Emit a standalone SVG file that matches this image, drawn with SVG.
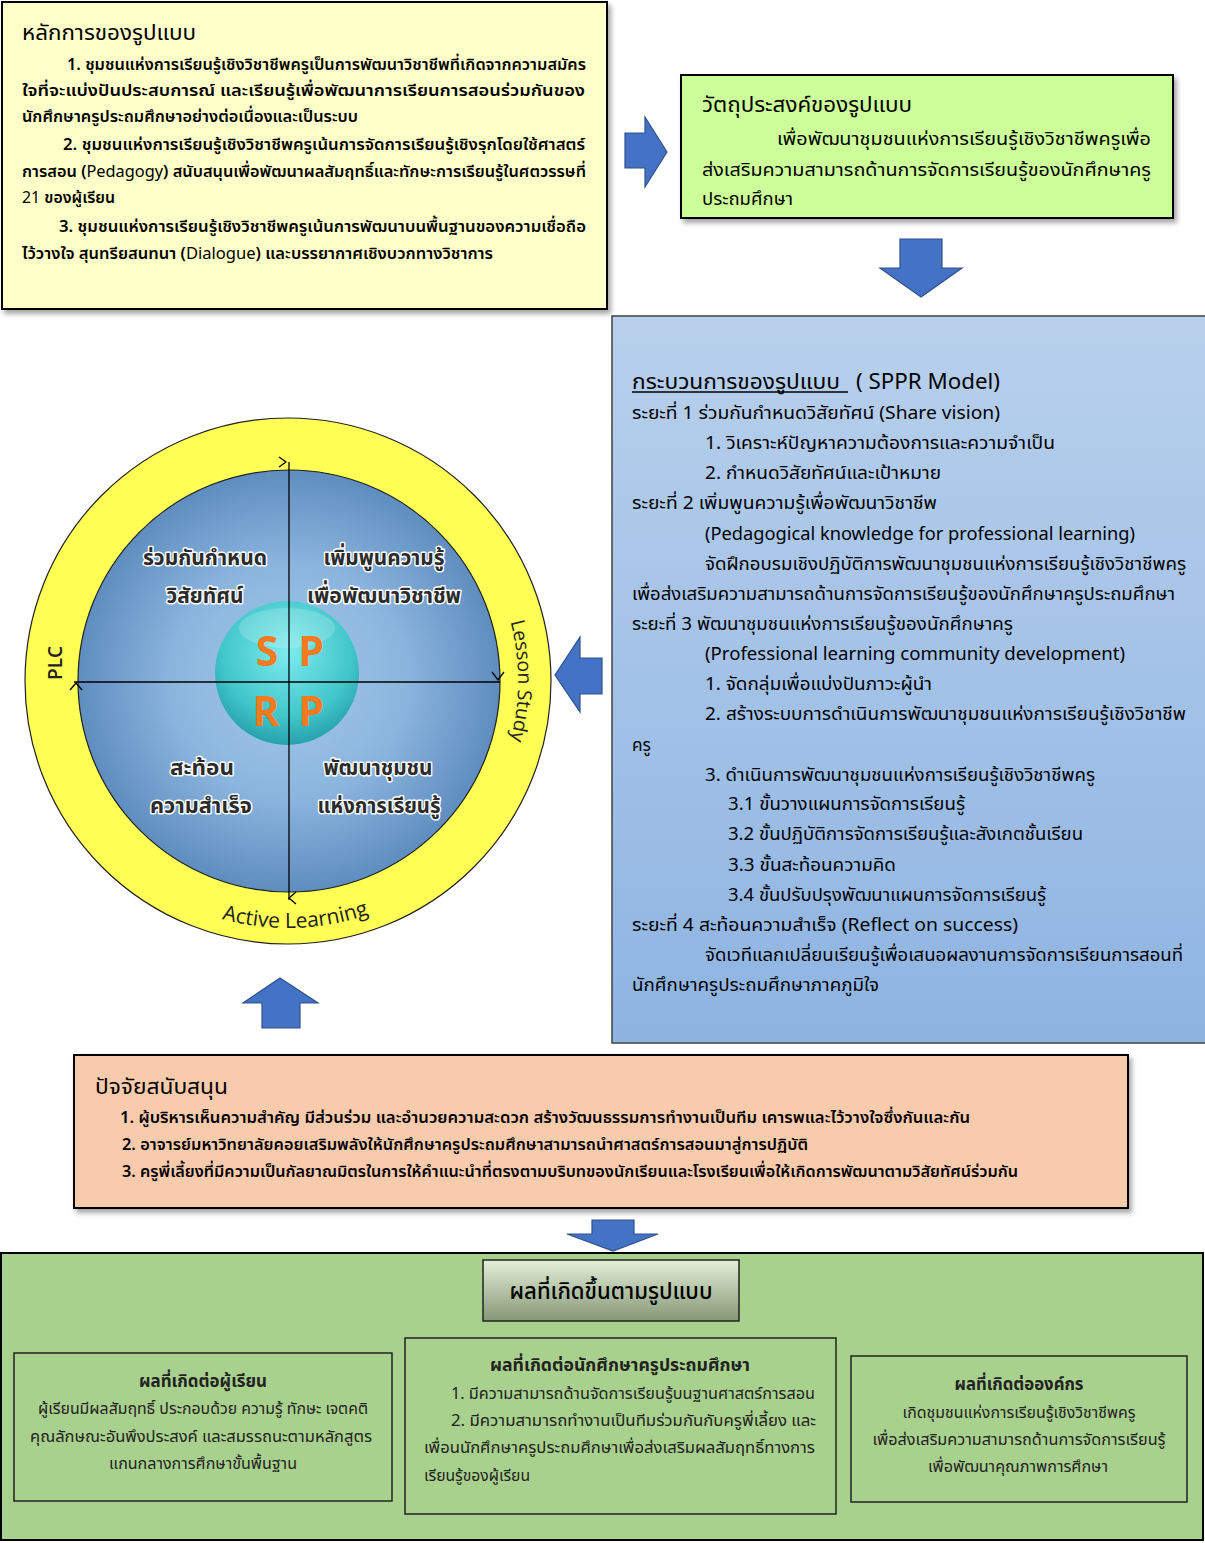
<svg xmlns="http://www.w3.org/2000/svg" width="1205" height="1543" viewBox="0 0 1205 1543">
<style>
text{font-family:"Noto Sans Thai","Noto Sans Thai UI","Noto Sans","DejaVu Sans",sans-serif;fill:#000}
.h{font-size:21.5px}
.b{font-size:16px;font-weight:600}
.p{font-size:17.5px}
.q{font-size:15.5px;fill:#222}
.qt{font-size:17px;font-weight:bold;fill:#222}
.ql{font-size:22px;font-weight:bold;fill:#2b2b2b;stroke:#fff;stroke-width:3px;paint-order:stroke;stroke-linejoin:round}
.ring{font-family:"Open Sans","Noto Sans",sans-serif;fill:#222}
.spp{font-family:"Open Sans","Noto Sans",sans-serif;font-size:41px;font-weight:bold;fill:#F47A20}
.arr{fill:#4472C4;stroke:#2F528F;stroke-width:1.2}
.box{stroke:#000;stroke-width:2}
.chev{fill:none;stroke:#000;stroke-width:1.3}
</style>
<defs>
<filter id="sh" x="-5%" y="-5%" width="110%" height="115%"><feDropShadow dx="3" dy="4" stdDeviation="2.5" flood-color="#000" flood-opacity="0.35"/></filter>
<linearGradient id="blueBox" x1="0" y1="0" x2="0" y2="1"><stop offset="0" stop-color="#B8D0EC"/><stop offset="1" stop-color="#8EB4E2"/></linearGradient>
<radialGradient id="inner" cx="0.5" cy="0.5" r="0.5"><stop offset="0" stop-color="#A4CAEC"/><stop offset="0.55" stop-color="#8CB5DE"/><stop offset="1" stop-color="#5E8DBF"/></radialGradient>
<radialGradient id="teal" cx="0.5" cy="0.35" r="0.65"><stop offset="0" stop-color="#7BEDEE"/><stop offset="0.7" stop-color="#3CC6C8"/><stop offset="1" stop-color="#229FA6"/></radialGradient>
<linearGradient id="tbox" x1="0" y1="0" x2="0" y2="1"><stop offset="0" stop-color="#E4EFD8"/><stop offset="1" stop-color="#859775"/></linearGradient>
<path id="lsArc" d="M496.5,583.8 A229,229 0 0 1 496.5,778.2" fill="none"/>
<path id="alArc" d="M74.1,804.5 A247,247 0 0 0 501.9,804.5" fill="none"/>
</defs>
<rect width="1205" height="1543" fill="#fff"/>

<g id="principles">
<rect class="box" x="2" y="2" width="605" height="307" fill="#FFFFC9" filter="url(#sh)"/>
<text class="h" x="22" y="40" textLength="174" lengthAdjust="spacingAndGlyphs">หลักการของรูปแบบ</text>
<text class="b" x="67" y="70" textLength="519" lengthAdjust="spacingAndGlyphs">1. ชุมชนแห่งการเรียนรู้เชิงวิชาชีพครูเป็นการพัฒนาวิชาชีพที่เกิดจากความสมัคร</text>
<text class="b" x="22" y="96" textLength="563" lengthAdjust="spacingAndGlyphs">ใจที่จะแบ่งปันประสบการณ์ และเรียนรู้เพื่อพัฒนาการเรียนการสอนร่วมกันของ</text>
<text class="b" x="22" y="122" textLength="336" lengthAdjust="spacingAndGlyphs">นักศึกษาครูประถมศึกษาอย่างต่อเนื่องและเป็นระบบ</text>
<text class="b" x="63" y="150" textLength="522" lengthAdjust="spacingAndGlyphs">2. ชุมชนแห่งการเรียนรู้เชิงวิชาชีพครูเน้นการจัดการเรียนรู้เชิงรุกโดยใช้ศาสตร์</text>
<text class="b" x="22" y="177" textLength="564" lengthAdjust="spacingAndGlyphs">การสอน (<tspan font-weight="normal">Pedagogy</tspan>) สนับสนุนเพื่อพัฒนาผลสัมฤทธิ์และทักษะการเรียนรู้ในศตวรรษที่</text>
<text class="b" x="22" y="203" textLength="93" lengthAdjust="spacingAndGlyphs"><tspan font-weight="normal">21</tspan> ของผู้เรียน</text>
<text class="b" x="59" y="232" textLength="527" lengthAdjust="spacingAndGlyphs">3. ชุมชนแห่งการเรียนรู้เชิงวิชาชีพครูเน้นการพัฒนาบนพื้นฐานของความเชื่อถือ</text>
<text class="b" x="22" y="259" textLength="471" lengthAdjust="spacingAndGlyphs">ไว้วางใจ สุนทรียสนทนา (<tspan font-weight="normal">Dialogue</tspan>) และบรรยากาศเชิงบวกทางวิชาการ</text>
</g>

<g id="objective">
<rect class="box" x="681" y="75" width="492" height="143" fill="#CCFF99" filter="url(#sh)"/>
<text class="h" x="702" y="112" textLength="210" lengthAdjust="spacingAndGlyphs">วัตถุประสงค์ของรูปแบบ</text>
<text class="p" x="777" y="145" textLength="374" lengthAdjust="spacingAndGlyphs">เพื่อพัฒนาชุมชนแห่งการเรียนรู้เชิงวิชาชีพครูเพื่อ</text>
<text class="p" x="702" y="176" textLength="449" lengthAdjust="spacingAndGlyphs">ส่งเสริมความสามารถด้านการจัดการเรียนรู้ของนักศึกษาครู</text>
<text class="p" x="702" y="205" textLength="91" lengthAdjust="spacingAndGlyphs">ประถมศึกษา</text>
</g>

<g id="process">
<rect x="612" y="316" width="595" height="727" fill="url(#blueBox)" stroke="#404040" stroke-width="1.5"/>
<text class="h" x="632" y="389" textLength="208" lengthAdjust="spacingAndGlyphs">กระบวนการของรูปแบบ</text>
<line x1="632" y1="392" x2="848" y2="392" stroke="#000" stroke-width="1.3"/>
<text class="h" x="856" y="389" textLength="144" lengthAdjust="spacingAndGlyphs">( SPPR Model)</text>
<text class="p" x="632" y="419" textLength="368" lengthAdjust="spacingAndGlyphs">ระยะที่ 1 ร่วมกันกำหนดวิสัยทัศน์  (Share vision)</text>
<text class="p" x="705" y="449" textLength="350" lengthAdjust="spacingAndGlyphs">1. วิเคราะห์ปัญหาความต้องการและความจำเป็น</text>
<text class="p" x="705" y="479" textLength="236" lengthAdjust="spacingAndGlyphs">2. กำหนดวิสัยทัศน์และเป้าหมาย</text>
<text class="p" x="632" y="509" textLength="305" lengthAdjust="spacingAndGlyphs">ระยะที่ 2 เพิ่มพูนความรู้เพื่อพัฒนาวิชาชีพ</text>
<text class="p" x="705" y="540" textLength="430" lengthAdjust="spacingAndGlyphs">(Pedagogical knowledge for professional  learning)</text>
<text class="p" x="705" y="570" textLength="481" lengthAdjust="spacingAndGlyphs">จัดฝึกอบรมเชิงปฏิบัติการพัฒนาชุมชนแห่งการเรียนรู้เชิงวิชาชีพครู</text>
<text class="p" x="632" y="600" textLength="543" lengthAdjust="spacingAndGlyphs">เพื่อส่งเสริมความสามารถด้านการจัดการเรียนรู้ของนักศึกษาครูประถมศึกษา</text>
<text class="p" x="632" y="630" textLength="381" lengthAdjust="spacingAndGlyphs">ระยะที่ 3 พัฒนาชุมชนแห่งการเรียนรู้ของนักศึกษาครู</text>
<text class="p" x="705" y="660" textLength="420" lengthAdjust="spacingAndGlyphs">(Professional  learning community development)</text>
<text class="p" x="705" y="690" textLength="227" lengthAdjust="spacingAndGlyphs">1. จัดกลุ่มเพื่อแบ่งปันภาวะผู้นำ</text>
<text class="p" x="705" y="720" textLength="481" lengthAdjust="spacingAndGlyphs">2. สร้างระบบการดำเนินการพัฒนาชุมชนแห่งการเรียนรู้เชิงวิชาชีพ</text>
<text class="p" x="632" y="751" textLength="19" lengthAdjust="spacingAndGlyphs">ครู</text>
<text class="p" x="705" y="781" textLength="390" lengthAdjust="spacingAndGlyphs">3. ดำเนินการพัฒนาชุมชนแห่งการเรียนรู้เชิงวิชาชีพครู</text>
<text class="p" x="728" y="810" textLength="237" lengthAdjust="spacingAndGlyphs">3.1 ขั้นวางแผนการจัดการเรียนรู้</text>
<text class="p" x="728" y="840" textLength="355" lengthAdjust="spacingAndGlyphs">3.2 ขั้นปฏิบัติการจัดการเรียนรู้และสังเกตชั้นเรียน</text>
<text class="p" x="728" y="871" textLength="168" lengthAdjust="spacingAndGlyphs">3.3 ขั้นสะท้อนความคิด</text>
<text class="p" x="728" y="901" textLength="318" lengthAdjust="spacingAndGlyphs">3.4 ขั้นปรับปรุงพัฒนาแผนการจัดการเรียนรู้</text>
<text class="p" x="632" y="931" textLength="386" lengthAdjust="spacingAndGlyphs">ระยะที่ 4 สะท้อนความสำเร็จ (Reflect on success)</text>
<text class="p" x="705" y="961" textLength="478" lengthAdjust="spacingAndGlyphs">จัดเวทีแลกเปลี่ยนเรียนรู้เพื่อเสนอผลงานการจัดการเรียนการสอนที่</text>
<text class="p" x="632" y="991" textLength="247" lengthAdjust="spacingAndGlyphs">นักศึกษาครูประถมศึกษาภาคภูมิใจ</text>
</g>

<g id="sppr-cycle">
<circle cx="288" cy="681" r="263" fill="#FFFF55" stroke="#222" stroke-width="1.2"/>
<circle cx="289" cy="681" r="211" fill="url(#inner)" stroke="#222" stroke-width="1.2"/>
<circle cx="287" cy="673" r="72" fill="url(#teal)" opacity="0.95"/>
<ellipse cx="287" cy="628" rx="48" ry="20" fill="#fff" opacity="0.18"/>
<line x1="289" y1="462" x2="289" y2="900" stroke="#000" stroke-width="1.3"/>
<line x1="74" y1="682" x2="500" y2="682" stroke="#000" stroke-width="1.3"/>
<polyline class="chev" points="279,457 286,462 279,467"/>
<polyline class="chev" points="492,672 498,680 504,672"/>
<polyline class="chev" points="296,892 289,898 296,904"/>
<polyline class="chev" points="70,690 76,683 82,690"/>
<text class="spp" x="267" y="666" text-anchor="middle">S</text>
<text class="spp" x="311" y="666" text-anchor="middle">P</text>
<text class="spp" x="266" y="726" text-anchor="middle">R</text>
<text class="spp" x="311" y="726" text-anchor="middle">P</text>
<text class="ql" x="205" y="565" text-anchor="middle" textLength="124" lengthAdjust="spacingAndGlyphs">ร่วมกันกำหนด</text>
<text class="ql" x="205" y="603" text-anchor="middle" textLength="77" lengthAdjust="spacingAndGlyphs">วิสัยทัศน์</text>
<text class="ql" x="384" y="565" text-anchor="middle" textLength="121" lengthAdjust="spacingAndGlyphs">เพิ่มพูนความรู้</text>
<text class="ql" x="384" y="603" text-anchor="middle" textLength="154" lengthAdjust="spacingAndGlyphs">เพื่อพัฒนาวิชาชีพ</text>
<text class="ql" x="202" y="775" text-anchor="middle" textLength="64" lengthAdjust="spacingAndGlyphs">สะท้อน</text>
<text class="ql" x="201" y="813" text-anchor="middle" textLength="102" lengthAdjust="spacingAndGlyphs">ความสำเร็จ</text>
<text class="ql" x="378" y="775" text-anchor="middle" textLength="109" lengthAdjust="spacingAndGlyphs">พัฒนาชุมชน</text>
<text class="ql" x="379" y="813" text-anchor="middle" textLength="123" lengthAdjust="spacingAndGlyphs">แห่งการเรียนรู้</text>
<text class="ring" transform="translate(62,663) rotate(-90)" text-anchor="middle" style="font-size:19px;font-weight:600">PLC</text>
<text class="ring" style="font-size:19.5px"><textPath href="#lsArc" startOffset="50%" text-anchor="middle">Lesson Study</textPath></text>
<text class="ring" style="font-size:21px"><textPath href="#alArc" startOffset="51.5%" text-anchor="middle">Active Learning</textPath></text>
</g>

<g id="support">
<rect class="box" x="74" y="1055" width="1054" height="153" fill="#F8CBAD" filter="url(#sh)"/>
<text class="h" x="95" y="1094" textLength="133" lengthAdjust="spacingAndGlyphs">ปัจจัยสนับสนุน</text>
<text class="b" x="120" y="1123" textLength="850" lengthAdjust="spacingAndGlyphs">1. ผู้บริหารเห็นความสำคัญ  มีส่วนร่วม และอำนวยความสะดวก สร้างวัฒนธรรมการทำงานเป็นทีม เคารพและไว้วางใจซึ่งกันและกัน</text>
<text class="b" x="122" y="1150" textLength="686" lengthAdjust="spacingAndGlyphs">2. อาจารย์มหาวิทยาลัยคอยเสริมพลังให้นักศึกษาครูประถมศึกษาสามารถนำศาสตร์การสอนมาสู่การปฏิบัติ</text>
<text class="b" x="122" y="1177" textLength="896" lengthAdjust="spacingAndGlyphs">3. ครูพี่เลี้ยงที่มีความเป็นกัลยาณมิตรในการให้คำแนะนำที่ตรงตามบริบทของนักเรียนและโรงเรียนเพื่อให้เกิดการพัฒนาตามวิสัยทัศน์ร่วมกัน</text>
</g>

<g id="connectors">
<polygon class="arr" points="625,133 645,133 645,117 667,152 645,187 645,168 625,168"/>
<polygon class="arr" points="900,239 942,239 942,268 962,268 921,297 880,268 900,268"/>
<polygon class="arr" points="602,658 580,658 580,637 555,675 580,712 580,694 602,694"/>
<polygon class="arr" points="262,1028 262,1003 243,1003 280,978 318,1003 300,1003 300,1028"/>
<polygon class="arr" points="592,1220 634,1220 634,1234 658,1234 613,1251 567,1234 592,1234"/>
</g>

<g id="outcomes">
<rect class="box" x="1" y="1253" width="1202" height="287" fill="#A9D18E"/>
<g id="outcomes-title">
<rect x="483" y="1260" width="256" height="61" fill="url(#tbox)" stroke="#222" stroke-width="1.5"/>
<text x="611" y="1299" text-anchor="middle" font-size="22.5" font-weight="500" textLength="203" lengthAdjust="spacingAndGlyphs" fill="#111">ผลที่เกิดขึ้นตามรูปแบบ</text>
</g>
<g id="outcome-learner">
<rect x="14" y="1353" width="378" height="148" fill="none" stroke="#222" stroke-width="1.5"/>
<text class="qt" x="203" y="1387" text-anchor="middle" textLength="128" lengthAdjust="spacingAndGlyphs">ผลที่เกิดต่อผู้เรียน</text>
<text class="q" x="203" y="1414" text-anchor="middle" textLength="330" lengthAdjust="spacingAndGlyphs">ผู้เรียนมีผลสัมฤทธิ์ ประกอบด้วย ความรู้  ทักษะ เจตคติ</text>
<text class="q" x="201" y="1442" text-anchor="middle" textLength="342" lengthAdjust="spacingAndGlyphs">คุณลักษณะอันพึงประสงค์ และสมรรถนะตามหลักสูตร</text>
<text class="q" x="203" y="1469" text-anchor="middle" textLength="188" lengthAdjust="spacingAndGlyphs">แกนกลางการศึกษาขั้นพื้นฐาน</text>
</g>
<g id="outcome-student-teacher">
<rect x="405" y="1338" width="431" height="176" fill="none" stroke="#222" stroke-width="1.5"/>
<text class="qt" x="620" y="1371" text-anchor="middle" textLength="260" lengthAdjust="spacingAndGlyphs">ผลที่เกิดต่อนักศึกษาครูประถมศึกษา</text>
<text class="q" x="451" y="1399" textLength="364" lengthAdjust="spacingAndGlyphs">1. มีความสามารถด้านจัดการเรียนรู้บนฐานศาสตร์การสอน</text>
<text class="q" x="451" y="1426" textLength="365" lengthAdjust="spacingAndGlyphs">2. มีความสามารถทำงานเป็นทีมร่วมกันกับครูพี่เลี้ยง และ</text>
<text class="q" x="424" y="1453" textLength="391" lengthAdjust="spacingAndGlyphs">เพื่อนนักศึกษาครูประถมศึกษาเพื่อส่งเสริมผลสัมฤทธิ์ทางการ</text>
<text class="q" x="424" y="1481" textLength="106" lengthAdjust="spacingAndGlyphs">เรียนรู้ของผู้เรียน</text>
</g>
<g id="outcome-organization">
<rect x="851" y="1356" width="336" height="146" fill="none" stroke="#222" stroke-width="1.5"/>
<text class="qt" x="1019" y="1390" text-anchor="middle" textLength="129" lengthAdjust="spacingAndGlyphs">ผลที่เกิดต่อองค์กร</text>
<text class="q" x="1019" y="1418" text-anchor="middle" textLength="233" lengthAdjust="spacingAndGlyphs">เกิดชุมชนแห่งการเรียนรู้เชิงวิชาชีพครู</text>
<text class="q" x="1019" y="1445" text-anchor="middle" textLength="293" lengthAdjust="spacingAndGlyphs">เพื่อส่งเสริมความสามารถด้านการจัดการเรียนรู้</text>
<text class="q" x="1018" y="1472" text-anchor="middle" textLength="180" lengthAdjust="spacingAndGlyphs">เพื่อพัฒนาคุณภาพการศึกษา</text>
</g>
</g>
</svg>
